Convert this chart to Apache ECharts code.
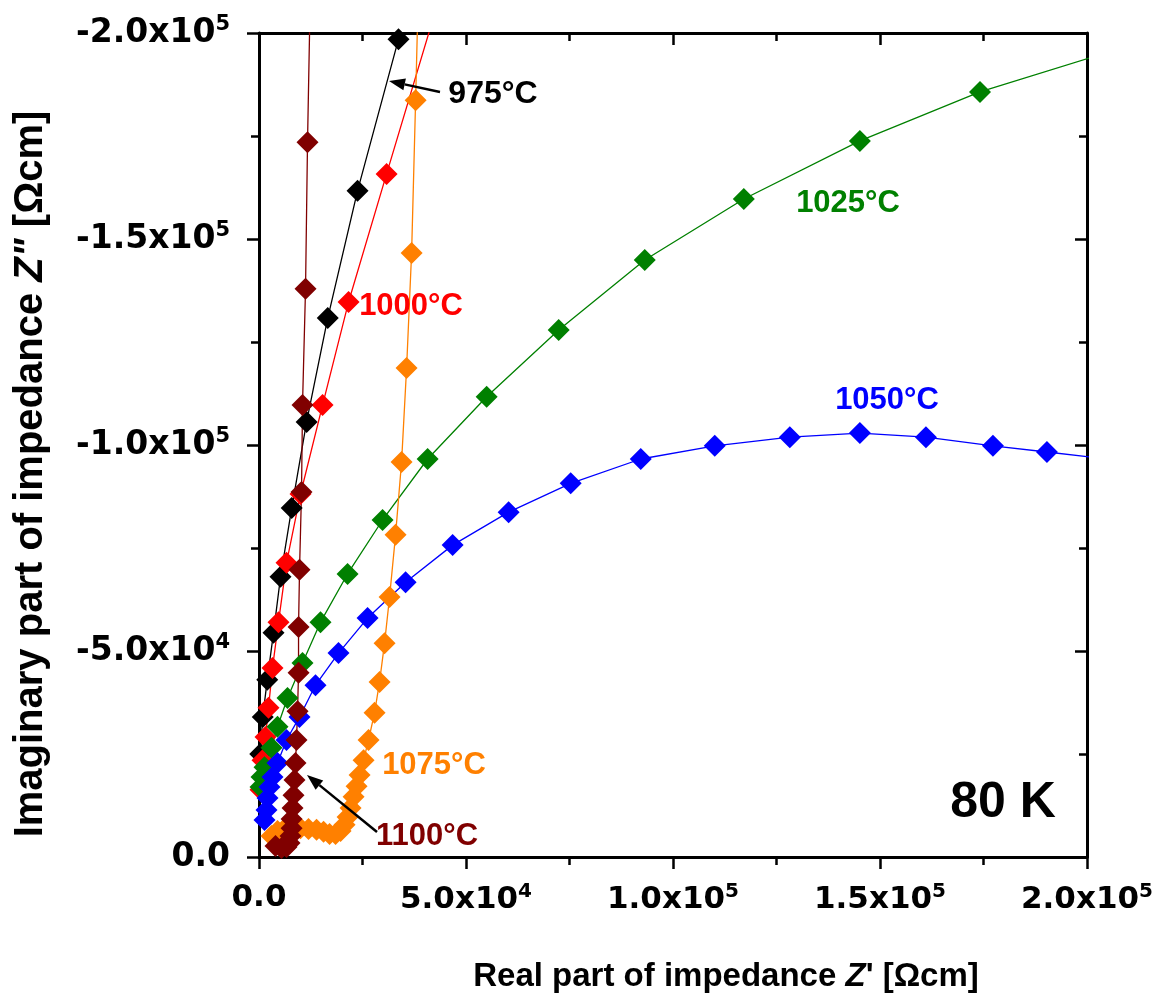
<!DOCTYPE html>
<html>
<head>
<meta charset="utf-8">
<script src="https://cdn.jsdelivr.net/npm/echarts@6/dist/echarts.min.js"></script>
<style>html,body{margin:0;padding:0;background:#fff}#c{width:1163px;height:1005px}</style>
</head>
<body>
<div id="c"></div>
<script>
// ---- data (Z' in Ωcm, Z'' in Ωcm) ----
const x975  = [300, 900, 2000, 3500, 5200, 7900, 11500, 16600, 23800, 33700];
const y975  = [-25000, -34000, -43000, -54400, -68000, -84700, -105600, -130800, -161700, -198500];

const x1000 = [360, 850, 1570, 2300, 3260, 4710, 6650, 10030, 15350, 21630, 30820, 44000];
const y1000 = [-16300, -23500, -29100, -36200, -45900, -57000, -71400, -88100, -109700, -134700, -165800, -210000];

const x1025 = [360, 600, 1330, 3020, 4470, 6890, 10510, 14860, 21390, 29850, 40730, 54990, 72390, 93180, 117110, 145140, 174150, 205000];
const y1025 = [-17000, -19400, -21800, -26500, -31600, -38600, -47100, -57000, -68700, -81800, -96600, -111700, -127900, -144900, -159700, -173800, -185700, -195300];

const x1050 = [1330, 1810, 2050, 2540, 3260, 4470, 6650, 9790, 13650, 19210, 26220, 35410, 46770, 60300, 75290, 92210, 110090, 128220, 145140, 161090, 177280, 190330, 200700];
const y1050 = [-9000, -11400, -14300, -17000, -19400, -22800, -28400, -34000, -41700, -49500, -58000, -66700, -75700, -83700, -90700, -96600, -99800, -101900, -102900, -101900, -99800, -98300, -97100];

const x1075 = [3020, 4470, 6160, 8100, 10030, 11960, 13900, 15590, 17040, 18490, 19700, 20670, 21390, 22110, 22840, 23570, 24290, 25260, 26460, 27910, 29120, 30330, 31540, 32990, 34440, 35650, 36860, 37830, 38550];
const y1075 = [-5100, -6300, -6800, -7000, -7000, -6800, -6600, -6100, -5600, -5600, -6300, -7800, -9700, -11900, -14600, -17200, -19900, -23500, -28400, -35000, -42500, -51900, -63100, -78200, -95900, -118700, -146600, -183700, -212900];

const x1100 = [3990, 5440, 6650, 7370, 7610, 7860, 7860, 8100, 8340, 8580, 8820, 9060, 9310, 9550, 9550, 9790, 10270, 10510, 11240, 11720, 12450];
const y1100 = [-2700, -2200, -2400, -3400, -5100, -7000, -9200, -11900, -15000, -18700, -22800, -28400, -35400, -44700, -55800, -69700, -88600, -109700, -137900, -173500, -213000];

const seriesNames  = ['975°C', '1000°C', '1025°C', '1050°C', '1075°C', '1100°C'];
const seriesColors = ['#000000', '#ff0000', '#008000', '#0000ff', '#ff8000', '#800000'];
const seriesX = [x975, x1000, x1025, x1050, x1075, x1100];
const seriesY = [y975, y1000, y1025, y1050, y1075, y1100];

const xTickInterval = 50000, xMin = 0, xMax = 200000;
const yTickInterval = 50000, yMin = -200000, yMax = 0;

// ---- chart ----
function sciLabel(v) {
  if (v === 0) return '{n|0.0}';
  const a = Math.abs(v);
  const e = Math.floor(Math.log10(a) + 1e-9);
  const m = v / Math.pow(10, e);
  return '{n|' + m.toFixed(1) + 'x10}{s|' + e + '}';
}
const tickFont = 'DejaVu Sans';
function makeRich(size, supSize, raise) {
  return {
    n: { fontFamily: tickFont, fontWeight: 'bold', fontSize: size, color: '#000' },
    s: { fontFamily: tickFont, fontWeight: 'bold', fontSize: supSize, color: '#000', padding: [0, 0, raise, 0] }
  };
}
const axisLineStyle = { color: '#000', width: 3 };
const tickLine = { color: '#000', width: 2.5 };

const chart = echarts.init(document.getElementById('c'), null, { renderer: 'canvas' });

const series = seriesNames.map((n, i) => ({
  name: n,
  type: 'line',
  xAxisIndex: 0,
  yAxisIndex: 0,
  data: seriesX[i].map((x, k) => [x, seriesY[i][k]]),
  symbol: 'diamond',
  symbolSize: 22,
  showAllSymbol: true,
  clip: true,
  lineStyle: { color: seriesColors[i], width: 1.3 },
  itemStyle: { color: seriesColors[i] },
  emphasis: { disabled: true },
  animation: false
}));

function arrow(x1, y1, x2, y2) {
  const ang = Math.atan2(y2 - y1, x2 - x1);
  const L = 16, W = 6;
  const bx = x2 - L * Math.cos(ang), by = y2 - L * Math.sin(ang);
  const px = -Math.sin(ang), py = Math.cos(ang);
  return [
    { type: 'line', shape: { x1: x1, y1: y1, x2: bx, y2: by }, style: { stroke: '#000', lineWidth: 2.5 }, z: 100 },
    { type: 'polygon', shape: { points: [[x2, y2], [bx + px * W, by + py * W], [bx - px * W, by - py * W]] }, style: { fill: '#000' }, z: 100 }
  ];
}
function label(text, x, y, color, size) {
  return { type: 'text', x: x, y: y, z: 100,
    style: { text: text, fill: color, font: 'bold ' + size + 'px "Liberation Sans", Arial, sans-serif', align: 'center', verticalAlign: 'middle' } };
}

const option = {
  backgroundColor: '#fff',
  animation: false,
  grid: { left: 259, right: 76, top: 33, bottom: 148, containLabel: false },
  xAxis: [
    { type: 'value', min: xMin, max: xMax, interval: xTickInterval, position: 'bottom',
      axisLine: { show: true, onZero: false, lineStyle: axisLineStyle },
      axisTick: { show: true, inside: false, length: 12, lineStyle: tickLine },
      minorTick: { show: true, splitNumber: 2, length: 8, lineStyle: tickLine },
      splitLine: { show: false },
      axisLabel: { margin: 25, formatter: sciLabel, rich: makeRich(31, 20, 16), showMaxLabel: true, showMinLabel: true } },
    { type: 'value', min: xMin, max: xMax, interval: xTickInterval, position: 'top',
      axisLine: { show: true, onZero: false, lineStyle: axisLineStyle },
      axisTick: { show: true, inside: true, length: 12, lineStyle: tickLine },
      minorTick: { show: true, splitNumber: 2, length: 8, lineStyle: tickLine },
      splitLine: { show: false }, axisLabel: { show: false } }
  ],
  yAxis: [
    { type: 'value', min: yMin, max: yMax, interval: yTickInterval, inverse: true, position: 'left',
      axisLine: { show: true, onZero: false, lineStyle: axisLineStyle },
      axisTick: { show: true, inside: false, length: 12, lineStyle: tickLine },
      minorTick: { show: true, splitNumber: 2, length: 8, lineStyle: tickLine },
      splitLine: { show: false },
      axisLabel: { margin: 29, formatter: sciLabel, rich: makeRich(33, 21, 17), showMaxLabel: true, showMinLabel: true } },
    { type: 'value', min: yMin, max: yMax, interval: yTickInterval, inverse: true, position: 'right',
      axisLine: { show: true, onZero: false, lineStyle: axisLineStyle },
      axisTick: { show: true, inside: true, length: 12, lineStyle: tickLine },
      minorTick: { show: true, splitNumber: 2, length: 8, lineStyle: tickLine },
      splitLine: { show: false }, axisLabel: { show: false } }
  ],
  series: series,
  graphic: [
    { type: 'text', x: 31, y: 474, rotation: Math.PI / 2, z: 100,
      style: { text: 'Imaginary part of impedance {i|Z"} [Ωcm]', align: 'center', verticalAlign: 'middle',
        font: 'bold 40px "Liberation Sans", Arial, sans-serif', fill: '#000',
        rich: { i: { fontStyle: 'italic', fontWeight: 'bold', fontSize: 40, fontFamily: 'Liberation Sans', fill: '#000' } } } },
    { type: 'text', x: 726, y: 977, z: 100,
      style: { text: "Real part of impedance {i|Z}' [Ωcm]", align: 'center', verticalAlign: 'middle',
        font: 'bold 33px "Liberation Sans", Arial, sans-serif', fill: '#000',
        rich: { i: { fontStyle: 'italic', fontWeight: 'bold', fontSize: 33, fontFamily: 'Liberation Sans', fill: '#000' } } } },
    label('975°C', 493, 94, '#000000', 32),
    label('1000°C', 411, 306, '#ff0000', 31),
    label('1025°C', 848, 203, '#008000', 31),
    label('1050°C', 887, 400, '#0000ff', 31),
    label('1075°C', 434, 765, '#ff8000', 31),
    label('1100°C', 427, 836, '#800000', 31),
    label('80 K', 1003, 803, '#000000', 50),
    ...arrow(440, 92, 389, 81),
    ...arrow(377, 832, 307, 775)
  ]
};
chart.setOption(option);
</script>
</body>
</html>
